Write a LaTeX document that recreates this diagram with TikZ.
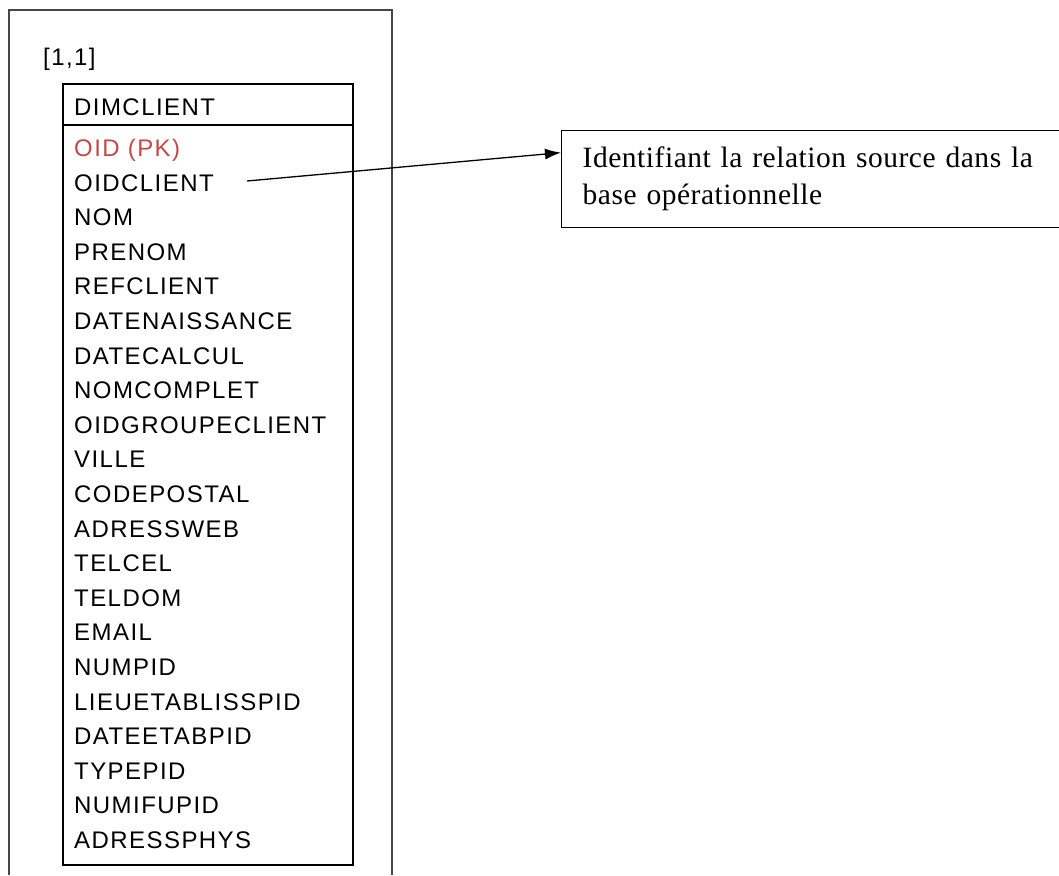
\documentclass[tikz,border=0pt]{standalone}
\usepackage{fontspec}
\setmainfont{Liberation Serif}
\newfontfamily\tablefont[LetterSpace=6]{Liberation Sans}
\newfontfamily\notefont[LetterSpace=1.8]{Liberation Serif}
\usetikzlibrary{calc,arrows.meta}
\definecolor{pkred}{RGB}{196,72,72}
\definecolor{framegray}{RGB}{70,70,70}
\begin{document}
\begin{tikzpicture}[x=1pt,y=-1pt,
  fieldtext/.style={anchor=base west, inner sep=0pt, font=\tablefont\fontsize{24}{28}\selectfont},
  tableframe/.style={draw=black, line width=2pt},
  outerframe/.style={draw=framegray, line width=1.3pt},
  notebox/.style={draw=black, line width=1.4pt, anchor=north west, align=left,
    text width=456pt, inner xsep=21pt, inner ysep=0pt, minimum height=97pt,
    font=\notefont\fontsize{29.5}{37}\selectfont},
  link/.style={draw=black, line width=1.3pt, -{Latex[length=16pt,width=11pt]}}]
  \useasboundingbox (0,0) rectangle (1059,875);

  % open frame around the dimension
  \draw[outerframe] (9,875) -- (9,10) -- (392,10) -- (392,875);
  \node[fieldtext] (card) at (43,65) {[1,1]};

  % table DIMCLIENT
  \draw[tableframe] (63,84) rectangle (353,865);
  \draw[tableframe] (63,125) -- (353,125);
  \node[fieldtext] (title) at (74,115.5) {DIMCLIENT};
  \node[fieldtext, text=pkred] (row0) at (74,156.5) {OID (PK)};
  \foreach \name [count=\i] in {OIDCLIENT,NOM,PRENOM,REFCLIENT,DATENAISSANCE,
      DATECALCUL,NOMCOMPLET,OIDGROUPECLIENT,VILLE,CODEPOSTAL,ADRESSWEB,TELCEL,
      TELDOM,EMAIL,NUMPID,LIEUETABLISSPID,DATEETABPID,TYPEPID,NUMIFUPID,ADRESSPHYS}
    \node[fieldtext] (row\i) at (74,156.5+34.6*\i) {\name};

  % explanatory note
  \node[notebox] (note) at (561,130)
    {\mbox{Identifiant la relation source dans la}\\base opérationnelle};
  \coordinate (src) at (247,181);
  \draw[link] (src) -- ($(note.north west)!0.23!(note.south west)$);
\end{tikzpicture}
\end{document}
